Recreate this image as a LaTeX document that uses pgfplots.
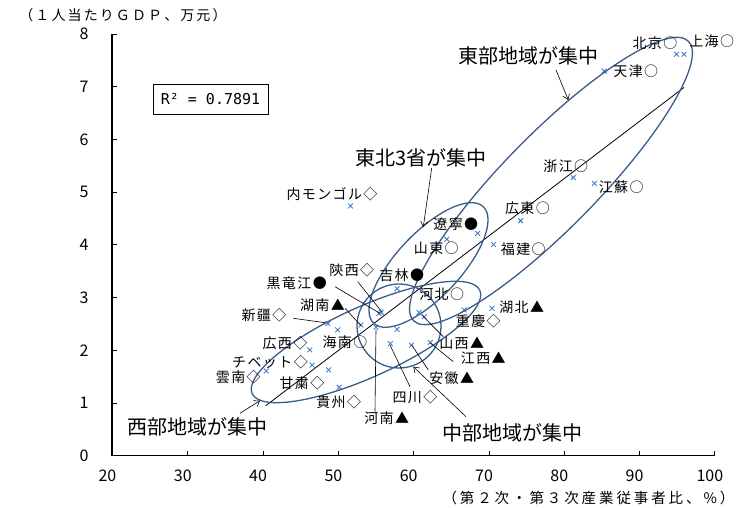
\documentclass[border=0pt]{standalone}
\usepackage{fontspec}
\setmainfont{Noto Sans CJK JP}
\newfontfamily\monof{DejaVu Sans Mono}
\usepackage{pgfplots}
\pgfplotsset{compat=1.18}
\usetikzlibrary{arrows.meta}
\definecolor{xblue}{RGB}{74,126,200}
\definecolor{ellblue}{RGB}{56,93,138}
\pgfplotstableread{
x y
95.9 7.62
94.9 7.62
85.3 7.30
81.2 5.28
84.0 5.17
74.2 4.46
68.5 4.22
64.4 4.11
70.6 4.01
51.6 4.74
57.8 3.17
55.4 2.70
55.7 2.72
53.0 2.48
49.9 2.39
55.0 2.44
57.8 2.40
61.4 2.64
60.7 2.72
62.2 2.15
59.7 2.10
56.9 2.13
66.7 2.77
70.4 2.80
48.6 2.51
46.2 2.01
46.5 1.72
48.7 1.63
40.4 1.61
50.1 1.30
}\provdata
\usepackage{pgfplotstable}
\begin{document}
\begin{tikzpicture}
\path[use as bounding box] (-112.5pt,-52.2pt) rectangle (627.5pt,455.8pt);
\begin{axis}[
 x=7.53pt, y=52.7pt,
 xmin=20, xmax=100, ymin=0, ymax=8,
 enlargelimits=false,
 axis x line*=bottom, axis y line*=left,
 axis line style={-},
 x axis line style={line width=1.3pt},
 y axis line style={line width=2pt},
 xtick={20,30,...,100}, ytick={0,1,...,8},
 tick align=inside,
 major tick length=5pt,
 tick style={black, line width=1pt},
 /pgf/number format/assume math mode=true,
 ticklabel style={font=\fontsize{16}{16}\selectfont},
 xticklabel style={xshift=-5pt, yshift=-11pt},
 yticklabel style={xshift=-20.5pt},
 xlabel={（第２次・第３次産業従事者比、\%）},
 ylabel={（１人当たりＧＤＰ、万元）},
 xlabel style={at={(axis description cs:0.790,-0.100)}, anchor=center, inner sep=0pt,
   font=\fontsize{14.5}{14.5}\selectfont\addfontfeature{LetterSpace=20}},
 ylabel style={rotate=-90, at={(axis description cs:0.0174,1.0455)}, anchor=center, inner sep=0pt,
   font=\fontsize{14}{14}\selectfont\addfontfeature{LetterSpace=15}},
 clip=false,
]
\addplot[black, line width=0.8pt] coordinates {(40.35,0.95) (95.9,6.99)};
\addplot[only marks, mark=x, mark size=3.4pt, color=xblue, mark options={line width=0.9pt}] table[x=x,y=y] {\provdata};
\end{axis}
\begin{scope}[shift={(-112.5pt,455.8pt)}, x=1pt, y=-1pt,
  lbl/.style={font=\fontsize{14}{14}\selectfont\addfontfeature{LetterSpace=10}, inner sep=0pt},
  big/.style={font=\fontsize{20}{20}\selectfont, inner sep=0pt},
  ell/.style={draw=ellblue, line width=1.3pt},
  ld/.style={black, line width=0.6pt},
  arr/.style={black, line width=0.6pt, -{Straight Barb[length=5pt,width=7pt]}}]
% ellipses
\draw[ell, rotate around={45.5:(551,181)}] (551,181) ellipse [x radius=196pt, y radius=47pt];
\draw[ell, rotate around={46.8:(428.5,265)}] (428.5,265) ellipse [x radius=80pt, y radius=32pt];
\draw[ell, rotate around={24.4:(366,342)}] (366,342) ellipse [x radius=125pt, y radius=35pt];
\draw[ell] (399,326) circle [radius=42pt];
% leader lines
\draw[ld] (335,286.7) -- (380,313.3);
\draw[ld] (357.7,281.7) -- (381.7,311.7);
\draw[ld] (345,308.3) -- (361,325.7);
\draw[ld] (293.3,318.3) -- (325,322.7);
\draw[ld] (376,330) -- (375,411.7);
\draw[ld] (390,345) -- (410,386.7);
\draw[ld] (411.7,345) -- (428.3,370);
\draw[ld] (430,342.7) -- (453.3,361.7);
\draw[ld] (421.7,315) -- (443.3,336.7);
% arrows
\draw[arr] (556,70) -- (568.3,100);
\draw[arr] (431.7,168) -- (423.3,227);
\draw[arr] (240,413.3) -- (260,400.7);
\draw[arr] (466,416.7) -- (413.3,366.7);
% group labels
\node[big] at (528.7,56) {東部地域が集中};
\node[big] at (421,158) {東北3省が集中};
\node[big] at (198,426.7) {西部地域が集中};
\node[big] at (512.5,433.3) {中部地域が集中};
% province labels
\node[lbl] at (655,43.3) {北京○};
\node[lbl] at (711.7,40.7) {上海○};
\node[lbl] at (635.8,71.7) {天津○};
\node[lbl] at (565.8,165.7) {浙江○};
\node[lbl] at (621.2,187.7) {江蘇○};
\node[lbl] at (527.5,208.3) {広東○};
\node[lbl] at (455.8,224) {遼寧●};
\node[lbl] at (436.3,248.3) {山東○};
\node[lbl] at (523.3,249.3) {福建○};
\node[lbl] at (332,194) {内モンゴル◇};
\node[lbl] at (401.7,275) {吉林●};
\node[lbl] at (351.8,270) {陝西◇};
\node[lbl] at (296.7,283.3) {黒竜江●};
\node[lbl] at (441.7,294.5) {河北○};
\node[lbl] at (322.5,305) {湖南▲};
\node[lbl] at (521.7,307.5) {湖北▲};
\node[lbl] at (264,315) {新疆◇};
\node[lbl] at (478.3,321) {重慶◇};
\node[lbl] at (345,341.7) {海南○};
\node[lbl] at (285,343.3) {広西◇};
\node[lbl] at (461.7,343) {山西▲};
\node[lbl] at (483.3,358.3) {江西▲};
\node[lbl] at (270,361.7) {チベット◇};
\node[lbl] at (238.3,376.7) {雲南◇};
\node[lbl] at (451.7,378.3) {安徽▲};
\node[lbl] at (302,382.7) {甘粛◇};
\node[lbl] at (415,396.7) {四川◇};
\node[lbl] at (338.7,401.7) {貴州◇};
\node[lbl] at (386.7,418.3) {河南▲};
% R^2 box
\node[draw, line width=0.8pt, minimum width=115pt, minimum height=30pt, inner sep=0pt,
  font=\monof\fontsize{15}{15}\selectfont] at (210.5,99) {R² = 0.7891};
\end{scope}
\end{tikzpicture}
\end{document}
